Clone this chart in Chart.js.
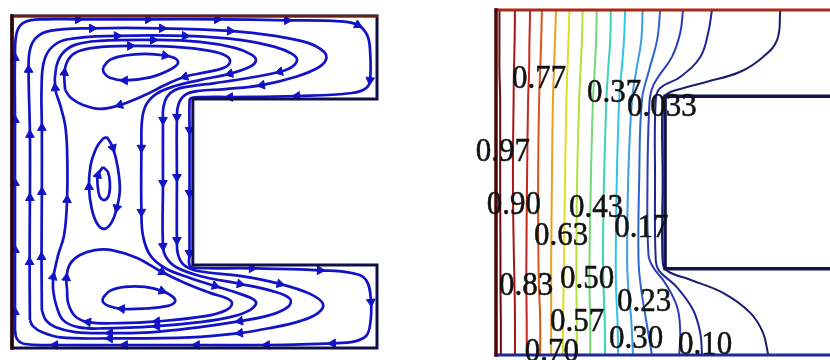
<!DOCTYPE html>
<html><head><meta charset="utf-8">
<script src="https://cdn.jsdelivr.net/npm/chart.js@4.4.1/dist/chart.umd.min.js"></script>
<style>
html,body{margin:0;padding:0;background:#fff;width:830px;height:360px;overflow:hidden}
canvas{position:absolute}
#left{left:4px;top:8px}
#right{left:466px;top:0}
</style></head><body>
<canvas id="left" width="381" height="348"></canvas>
<canvas id="right" width="364" height="360"></canvas>
<script>
// ---------- Left panel: streamlines (x: 0..110, y: 0..100, cavity height = 100) ----------
const cavityOutline = [[0,0],[0,100],[110,100],[110,75],[54.5,75],[54.5,25],[110,25],[110,0],[0,0]];
const hotWall = [[0,0],[0,100]];
const topWall = [[0,100],[110,100]];

const streamA = [[0.9,5.4],[0.9,10.8],[0.9,29.5],[0.9,49.7],[0.9,68.7],[0.9,87.4],[1.5,95.2],[3.9,98.2],[9.9,99.0],[19.9,99.0],[41.0,99.0],[61.8,99.0],[82.9,98.7],[98.8,98.4],[104.2,97.3],[107.0,94.3],[107.9,89.8],[107.9,80.7],[106.7,78.3],[102.4,76.8],[85.9,75.9],[65.7,75.6],[58.2,75.6],[53.9,75.2],[53.5,73.5],[53.5,65.7],[53.5,46.7],[53.5,28.6],[53.6,24.7],[55.7,24.1],[72.3,24.0],[92.8,23.4],[102.4,22.6],[106.7,20.5],[108.2,13.9],[107.9,6.9],[106.7,3.6],[103.3,2.0],[96.7,1.4],[76.8,0.9],[55.7,0.9],[34.0,0.9],[13.0,0.9],[3.9,1.2],[1.5,2.7],[0.9,5.4]];
const arrowsA = [1,2,3,4,5,9,10,11,12,14,17,20,21,25,26,27,30,31,34,38,39,40,41,42];

const streamB = [[5.4,8.4],[5.3,25.9],[5.4,45.2],[5.4,64.2],[5.0,83.8],[5.4,89.8],[7.2,93.4],[11.4,95.5],[24.1,96.3],[45.2,96.3],[65.7,95.5],[79.2,94.0],[89.2,91.9],[94.0,89.2],[94.6,86.8],[92.2,84.4],[85.6,81.7],[75.3,79.2],[64.2,78.0],[56.0,77.4],[52.1,76.2],[50.2,73.5],[49.7,69.6],[49.7,51.5],[49.7,32.5],[50.0,28.3],[51.8,25.0],[56.0,23.2],[68.7,21.7],[80.7,19.3],[89.8,16.3],[93.7,13.3],[92.2,10.5],[86.8,8.1],[77.7,6.0],[68.7,4.5],[53.6,3.2],[29.5,2.9],[14.5,3.2],[9.0,4.8],[6.3,6.6],[5.4,8.4]];
const arrowsB = [1,2,3,4,8,9,10,17,22,23,24,29,35,37];

const streamC = [[9.0,11.4],[8.9,27.4],[9.0,47.0],[9.0,66.3],[8.9,77.7],[9.6,86.2],[12.1,90.7],[16.9,93.0],[31.6,94.0],[52.1,94.0],[68.7,92.8],[79.2,90.7],[84.4,88.6],[85.9,86.8],[84.4,84.7],[80.7,83.2],[71.7,81.4],[61.2,79.8],[53.6,78.8],[49.1,77.7],[46.7,75.6],[45.6,72.3],[45.5,68.7],[45.5,49.7],[45.5,30.7],[46.4,27.4],[49.4,24.4],[56.6,21.7],[68.7,19.3],[78.3,17.2],[83.8,14.8],[83.2,12.4],[77.7,9.9],[68.7,8.1],[56.6,6.3],[41.6,4.7],[29.5,4.5],[19.0,4.8],[13.0,6.3],[10.2,8.4],[9.0,11.4]];
const arrowsC = [1,2,3,8,9,15,22,23,24,28,33,36];

const streamD = [[12.4,21.4],[13.9,28.0],[15.7,34.0],[16.6,44.6],[16.6,59.7],[16.0,67.2],[14.5,73.2],[13.0,78.3],[13.3,84.4],[15.1,88.6],[19.0,91.3],[26.5,92.5],[42.5,92.8],[56.6,92.2],[67.2,90.4],[72.3,88.3],[73.5,86.5],[71.7,84.7],[65.7,82.6],[56.6,80.7],[49.1,78.9],[43.4,76.5],[40.4,73.2],[39.2,68.7],[39.0,60.3],[39.0,41.0],[39.5,33.7],[41.6,28.0],[46.1,24.1],[53.6,21.1],[61.2,18.7],[69.6,16.0],[73.5,13.9],[71.7,11.4],[65.7,9.3],[56.6,7.8],[43.7,6.6],[27.4,5.9],[19.9,6.3],[15.4,8.4],[13.3,13.0],[12.4,17.5],[12.4,21.4]];
const arrowsD = [0,3,7,12,18,24,25,30,36];

const topCellOuter = [[16.0,77.7],[15.8,82.9],[16.9,86.8],[19.6,89.2],[25.0,90.5],[35.6,91.0],[49.1,90.7],[59.7,89.5],[64.5,88.0],[65.7,86.2],[63.9,84.4],[58.2,83.0],[52.1,81.7],[46.1,79.2],[40.1,76.2],[32.5,73.2],[26.5,72.0],[21.4,73.2],[17.8,75.3],[16.0,77.7]];
const arrowsTopOuter = [1,5,12,15];
const topCellInner = [[27.4,84.4],[29.5,86.8],[34.0,88.1],[40.1,88.6],[46.1,88.1],[49.4,87.1],[50.0,85.7],[47.6,83.8],[41.6,81.5],[34.0,80.6],[29.5,81.4],[27.7,82.9],[27.4,84.4]];
const arrowsTopInner = [4,9];

const bottomCellOuter = [[16.6,17.5],[16.4,21.1],[17.5,25.3],[20.5,28.0],[25.0,29.5],[30.1,29.5],[37.7,27.1],[45.2,22.9],[52.1,19.6],[59.7,16.6],[65.1,14.8],[66.3,13.3],[64.5,11.4],[58.2,9.6],[43.7,8.0],[32.5,7.5],[22.9,7.8],[19.0,9.6],[16.9,13.6],[16.6,17.5]];
const arrowsBottomOuter = [1,7,14,16];
const bottomCellInner = [[27.4,15.1],[29.5,17.2],[34.0,18.4],[40.1,18.4],[45.2,17.2],[48.5,15.4],[49.1,13.9],[47.0,12.7],[40.1,11.9],[33.1,11.8],[28.9,12.7],[27.4,13.9],[27.4,15.1]];
const arrowsBottomInner = [4,9];

const midCellOuter = [[28.6,63.6],[30.4,60.3],[31.9,54.2],[32.5,47.6],[31.6,42.2],[30.1,38.0],[28.0,35.9],[25.9,37.1],[24.1,41.6],[23.2,48.5],[23.7,55.1],[25.3,60.0],[27.1,62.7],[28.6,63.6]];
const arrowsMidOuter = [1,4,9];
const midCellInner = [[27.4,54.5],[28.9,53.0],[29.5,49.7],[29.2,46.1],[28.0,44.6],[26.5,45.5],[25.8,49.1],[25.9,52.1],[27.4,54.5]];
const arrowsMidInner = [7];

// ---------- Right panel: isotherms (x: 0..96.8 visible, y: 0..100) ----------
const rWall = [[0,0],[0,100]];
const rTop = [[0,100],[110,100]];
const rBottom = [[0,0],[110,0]];
const rNotch = [[110,75],[49,75],[49,25],[110,25]];

const isoLevels = ['0.97','0.90','0.83','0.77','0.70','0.63','0.57','0.50','0.43','0.37','0.30','0.23','0.17','0.10','0.033'];
const iso097 = [[1.0,100],[1.0,91.35],[1.0,82.65],[1.2,73.95],[1.2,50.75],[1.3,27.55],[1.3,18.85],[1.4,10.15],[1.4,0]];
const iso090 = [[5.5,100],[5.4,91.35],[5.2,82.65],[5.1,73.95],[4.9,50.75],[5.2,27.55],[5.4,18.85],[5.5,10.15],[5.5,0]];
const iso083 = [[9.9,100],[9.7,91.35],[9.6,82.65],[9.3,73.95],[9.0,50.75],[8.8,27.55],[8.8,18.85],[8.9,10.15],[8.9,0]];
const iso077 = [[13.3,100],[13.1,91.35],[12.8,82.65],[12.5,73.95],[12.2,50.75],[12.3,27.55],[12.5,18.85],[12.8,10.15],[12.8,0]];
const iso070 = [[17.4,100],[17.1,91.35],[16.8,82.65],[16.5,73.95],[16.2,50.75],[16.0,27.55],[16.0,18.85],[16.0,10.15],[16.0,0]];
const iso063 = [[21.3,100],[21.0,91.35],[20.7,82.65],[20.4,73.95],[20.0,50.75],[19.7,27.55],[19.6,18.85],[19.4,10.15],[19.4,0]];
const iso057 = [[25.1,100],[24.9,91.35],[24.5,82.65],[24.1,73.95],[23.5,50.75],[23.3,27.55],[23.3,18.85],[23.4,10.15],[23.4,0]];
const iso050 = [[29.2,100],[29.0,91.35],[28.6,82.65],[28.1,73.95],[27.5,50.75],[27.1,27.55],[27.1,18.85],[27.3,10.15],[27.3,0]];
const iso043 = [[33.3,100],[33.1,91.35],[32.5,82.65],[32.0,73.95],[31.3,50.75],[31.0,27.55],[31.2,18.85],[31.5,10.15],[31.6,0]];
const iso037 = [[37.4,100],[37.1,91.35],[36.4,82.65],[35.7,73.95],[35.0,50.75],[34.7,27.55],[34.8,18.85],[35.2,10.15],[35.4,0]];
const iso030 = [[42.5,100],[42.1,91.35],[40.7,82.65],[39.4,73.95],[38.3,50.75],[38.0,27.55],[38.4,18.85],[39.2,10.15],[39.7,0]];
const iso023 = [[47.6,100],[46.7,91.35],[44.4,82.65],[42.3,73.95],[41.5,50.75],[41.3,27.55],[42.1,18.85],[43.5,10.15],[45.2,0]];
const iso017 = [[54.2,100],[53.4,93.4],[51.0,86.4],[47.0,80.6],[45.1,76.9],[44.4,71.9],[43.9,50.8],[44.2,29.0],[45.5,25.5],[49.0,20.9],[52.5,13.9],[53.4,6.4],[53.1,0]];
const iso010 = [[62.6,100],[61.5,93.4],[59.2,86.4],[53.4,80.6],[47.6,77.4],[46.3,74.0],[46.1,50.8],[46.3,27.6],[47.3,24.4],[52.4,19.7],[57.1,13.1],[59.2,6.4],[59.7,0]];
const iso0033 = [[82.4,100],[81.5,91.4],[77.4,86.4],[70.8,82.1],[61.2,79.2],[53.4,77.1],[49.6,75.7],[48.3,73.4],[48.3,50.8],[48.3,27.0],[49.6,24.4],[56.3,21.8],[65.8,18.0],[73.7,12.2],[77.4,6.4],[78.9,0]];

const labelText = ['0.77','0.37','0.033','0.97','0.90','0.43','0.63','0.17','0.83','0.50','0.23','0.57','0.30','0.70','0.10'];
const labelX = [12.5,34.2,48.1,2.0,5.2,29.0,18.9,42.1,8.7,26.4,42.9,23.5,40.6,16.2,60.6];
const labelY = [79.8,76.0,71.9,58.9,43.5,42.6,34.5,36.8,20.0,22.0,15.4,9.6,4.6,0.9,2.9];

// ---------- styling / building ----------
const BLUE = '#1212c6';
const isoColors = ['#6e0a0a','#a51515','#c8281c','#d9541a','#e8a020','#e2dc22','#b4e03c','#78d878','#3cd4b4','#32c4e6','#3a9ee6','#2e64d2','#2a3cb4','#1e2496','#1c1c6e'];
const isoData = [iso097,iso090,iso083,iso077,iso070,iso063,iso057,iso050,iso043,iso037,iso030,iso023,iso017,iso010,iso0033];

const pts = a => a.map(p => ({x: p[0], y: p[1]}));

function arrowRotation(ctx) {
  const d = ctx.dataset.data, i = ctx.dataIndex;
  const a = d[Math.max(0, i - 1)], b = d[Math.min(d.length - 1, i + 1)];
  const xs = ctx.chart.scales.x, ys = ctx.chart.scales.y;
  const dx = xs.getPixelForValue(b.x) - xs.getPixelForValue(a.x);
  const dy = ys.getPixelForValue(b.y) - ys.getPixelForValue(a.y);
  return Math.atan2(dy, dx) * 180 / Math.PI + 90;
}

function lineDS(arr, color, width, tension) {
  return {data: pts(arr), showLine: true, borderColor: color, borderWidth: width, tension: tension,
          pointRadius: 0, fill: false, clip: false, borderCapStyle: 'square', borderJoinStyle: 'miter'};
}
function streamDS(arr, arrows) {
  return {data: pts(arr), showLine: true, borderColor: BLUE, borderWidth: 2.7, tension: 0.4,
          fill: false, clip: false, arrows: arrows,
          pointRadius: ctx => ctx.dataset.arrows.includes(ctx.dataIndex) ? 5 : 0,
          pointStyle: 'triangle', pointBackgroundColor: BLUE, pointBorderColor: BLUE, pointBorderWidth: 1,
          pointRotation: arrowRotation};
}

const baseOptions = (xmax, padding) => ({
  responsive: false, animation: false, devicePixelRatio: 1, events: [],
  layout: {padding: padding},
  plugins: {legend: {display: false}, tooltip: {enabled: false}},
  scales: {x: {type: 'linear', min: 0, max: xmax, display: false},
           y: {type: 'linear', min: 0, max: 100, display: false}}
});

new Chart(document.getElementById('left'), {
  type: 'scatter',
  data: {datasets: [
    lineDS(hotWall, '#2e0606', 3.5, 0),
    lineDS(topWall, '#6a2016', 2.5, 0),
    lineDS(cavityOutline, '#10104a', 3, 0),
    streamDS(streamA, arrowsA),
    streamDS(streamB, arrowsB),
    streamDS(streamC, arrowsC),
    streamDS(streamD, arrowsD),
    streamDS(topCellOuter, arrowsTopOuter),
    streamDS(topCellInner, arrowsTopInner),
    streamDS(bottomCellOuter, arrowsBottomOuter),
    streamDS(bottomCellInner, arrowsBottomInner),
    streamDS(midCellOuter, arrowsMidOuter),
    streamDS(midCellInner, arrowsMidInner)
  ]},
  options: baseOptions(110, 8)
});

const isoLabelPlugin = {
  id: 'isoLabels',
  afterDatasetsDraw(chart) {
    const c = chart.ctx, xs = chart.scales.x, ys = chart.scales.y;
    c.font = '31px "Liberation Serif"';
    c.fillStyle = '#121212';
    c.strokeStyle = '#121212';
    c.lineWidth = 0.5;
    c.textAlign = 'center';
    c.textBaseline = 'middle';
    labelText.forEach((t, i) => {
      c.save();
      c.translate(xs.getPixelForValue(labelX[i]), ys.getPixelForValue(labelY[i]));
      c.scale(1, 1.08);
      c.fillText(t, 0, 0);
      c.strokeText(t, 0, 0);
      c.restore();
    });
  }
};

const rightSets = [
  lineDS(rWall, '#4a0808', 3.5, 0),
  lineDS(rTop, '#a82a1a', 3, 0),
  lineDS(rBottom, '#1c2a9a', 3, 0),
  lineDS(rNotch, '#121250', 3.5, 0)
];
isoData.forEach((arr, i) => {
  const ds = lineDS(arr, isoColors[i], 2, 0.4);
  ds.label = isoLevels[i];
  rightSets.push(ds);
});

new Chart(document.getElementById('right'), {
  type: 'scatter',
  data: {datasets: rightSets},
  options: baseOptions(96.8, {left: 30, top: 10, right: 0, bottom: 5}),
  plugins: [isoLabelPlugin]
});
</script></body></html>
